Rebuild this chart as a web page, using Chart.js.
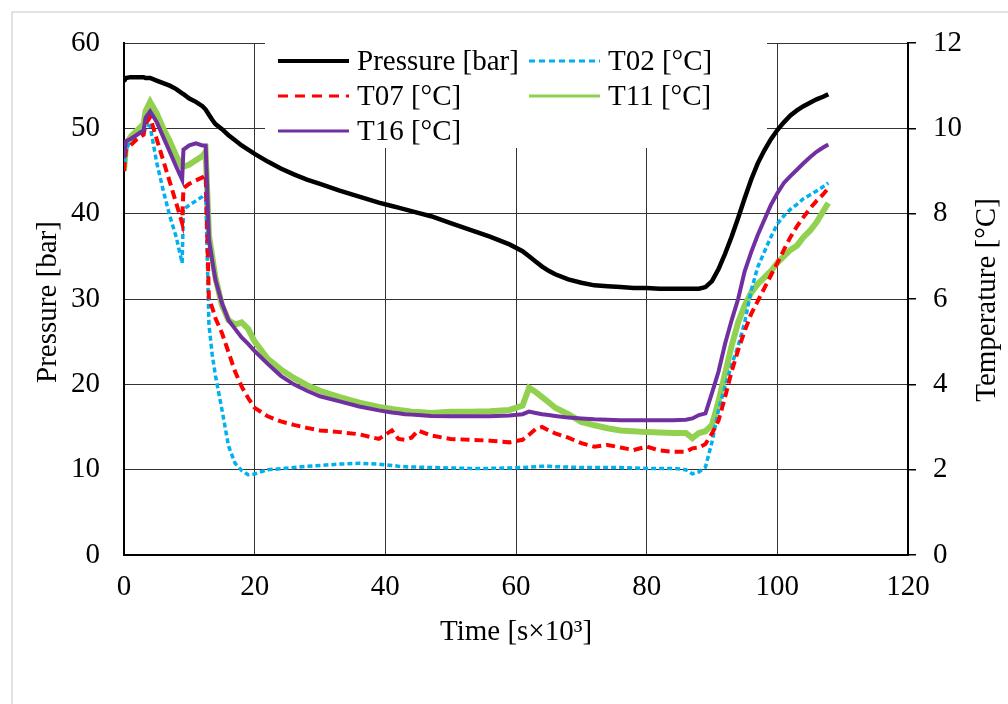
<!DOCTYPE html>
<html>
<head>
<meta charset="utf-8">
<script src="https://cdn.jsdelivr.net/npm/chart.js@4.4.1/dist/chart.umd.min.js"></script>
<style>
  body { margin: 0; background: #fff; }
  #wrap { width: 1008px; height: 704px; position: relative; }
</style>
</head>
<body>
<div id="wrap"><canvas id="chart"></canvas></div>
<script>
// time in thousands of seconds
const time = [0, 0.3, 1, 2, 3, 3.3, 4, 5, 6, 7,
    8, 8.9, 9.1, 10, 11, 12, 12.5, 13, 13.5, 14,
    15, 16, 17, 18, 19, 20, 22, 24, 26, 28,
    30, 33, 36, 39, 41, 42, 43, 44, 45, 47,
    50, 53, 56, 59, 61, 62, 63, 64, 65, 66,
    68, 70, 72, 74, 76, 78, 80, 82, 84, 86,
    87, 88, 89, 90, 91, 92, 93, 94, 95, 96,
    97, 98, 99, 100, 101, 102, 103, 104, 105, 106,
    107, 107.8];

// bar
const pressure = [55.5, 55.9, 56.0, 56.0, 56.0, 55.9, 55.9, 55.6, 55.3, 55.0,
    54.6, 54.1, 54.0, 53.5, 53.1, 52.6, 52.2, 51.6, 51.0, 50.5,
    49.9, 49.2, 48.6, 48.0, 47.5, 47.0, 46.1, 45.3, 44.6, 44.0,
    43.5, 42.7, 42.0, 41.3, 40.9, 40.7, 40.5, 40.3, 40.1, 39.7,
    38.9, 38.1, 37.3, 36.4, 35.6, 35.0, 34.4, 33.8, 33.3, 32.9,
    32.3, 31.9, 31.6, 31.5, 31.4, 31.3, 31.3, 31.2, 31.2, 31.2,
    31.2, 31.2, 31.4, 32.1, 33.5, 35.3, 37.3, 39.5, 41.8, 44.0,
    45.9, 47.4, 48.7, 49.8, 50.7, 51.5, 52.1, 52.6, 53.0, 53.4,
    53.7, 54.0];

// degC
const t02 = [9.0, 9.5, 9.7, 9.85, 10.0, 10.1, 10.05, 9.2, 8.55, 7.95,
    7.45, 6.84, 8.1, 8.2, 8.3, 8.4, 8.48, 5.4, 4.7, 4.2,
    3.4, 2.55, 2.15, 1.98, 1.88, 1.9, 2.0, 2.02, 2.05, 2.08,
    2.1, 2.13, 2.15, 2.13, 2.1, 2.08, 2.07, 2.06, 2.06, 2.05,
    2.04, 2.03, 2.03, 2.04, 2.05, 2.06, 2.07, 2.08, 2.08, 2.07,
    2.06, 2.05, 2.05, 2.05, 2.05, 2.04, 2.03, 2.03, 2.03, 2.0,
    1.9, 1.95, 2.06, 2.65, 3.4, 3.95, 4.45, 4.9, 5.45, 6.2,
    6.75, 7.1, 7.45, 7.76, 7.95, 8.1, 8.22, 8.35, 8.44, 8.53,
    8.63, 8.72];

const t07 = [9.0, 9.5, 9.6, 9.75, 9.85, 10.1, 10.26, 9.75, 9.25, 8.75,
    8.24, 7.78, 8.6, 8.7, 8.78, 8.85, 8.9, 6.0, 5.8, 5.55,
    5.2, 4.75, 4.3, 3.95, 3.68, 3.45, 3.25, 3.13, 3.05, 2.98,
    2.92, 2.88, 2.83, 2.72, 2.92, 2.72, 2.7, 2.75, 2.92, 2.8,
    2.72, 2.7, 2.68, 2.64, 2.7, 2.82, 2.95, 3.0, 2.92, 2.85,
    2.75, 2.62, 2.54, 2.58, 2.52, 2.46, 2.54, 2.45, 2.42, 2.42,
    2.5, 2.52, 2.6, 2.85, 3.15, 3.7, 4.3, 4.8, 5.25, 5.65,
    5.95, 6.25, 6.55, 6.84, 7.15, 7.45, 7.7, 7.92, 8.12, 8.3,
    8.45, 8.6];

const t11 = [9.0, 9.6, 9.8, 9.95, 10.1, 10.4, 10.62, 10.35, 10.0, 9.7,
    9.35, 9.1, 9.1, 9.15, 9.25, 9.35, 9.45, 7.5, 7.0, 6.5,
    5.85, 5.5, 5.4, 5.45, 5.3, 5.0, 4.6, 4.35, 4.15, 3.98,
    3.85, 3.7, 3.57, 3.47, 3.42, 3.4, 3.38, 3.36, 3.35, 3.33,
    3.36, 3.36, 3.37, 3.4, 3.5, 3.92, 3.82, 3.7, 3.58, 3.45,
    3.3, 3.12, 3.04, 2.97, 2.92, 2.9, 2.88, 2.87, 2.86, 2.86,
    2.74, 2.86, 2.9, 3.05, 3.6, 4.25, 4.9, 5.45, 5.85, 6.15,
    6.35, 6.5, 6.65, 6.85, 7.0, 7.15, 7.25, 7.45, 7.6, 7.8,
    8.05, 8.25];

const t16 = [9.3, 9.7, 9.75, 9.85, 9.95, 10.25, 10.4, 10.15, 9.8, 9.45,
    9.1, 8.8, 9.5, 9.6, 9.65, 9.6, 9.6, 7.4, 6.9, 6.45,
    5.9, 5.5, 5.3, 5.1, 4.95, 4.78, 4.48, 4.2, 4.0, 3.85,
    3.72, 3.6, 3.48, 3.39, 3.34, 3.32, 3.3, 3.29, 3.28, 3.26,
    3.25, 3.25, 3.25, 3.27, 3.3, 3.36, 3.33, 3.3, 3.28, 3.26,
    3.22, 3.2, 3.18, 3.17, 3.16, 3.16, 3.16, 3.16, 3.16, 3.17,
    3.2, 3.28, 3.32, 3.8, 4.3, 4.95, 5.5, 6.0, 6.65, 7.1,
    7.5, 7.85, 8.2, 8.48, 8.72, 8.88, 9.03, 9.18, 9.32, 9.45,
    9.55, 9.62];

const FONT = '"Liberation Serif", "Times New Roman", serif';
const FSIZE = 29;

const toPoints = vals => time.map((t, i) => ({ x: t, y: vals[i] }));

// legend entries: label, color, width, dash, column, row
const legendItems = [
    { label: 'Pressure [bar]', color: '#000000', width: 4, dash: [], col: 0, row: 0 },
    { label: 'T02 [°C]', color: '#00B0F0', width: 3, dash: [6, 4], col: 1, row: 0 },
    { label: 'T07 [°C]', color: '#FF0000', width: 3, dash: [10, 7], col: 0, row: 1 },
    { label: 'T11 [°C]', color: '#92D050', width: 3, dash: [], col: 1, row: 1 },
    { label: 'T16 [°C]', color: '#7030A0', width: 3, dash: [], col: 0, row: 2 }
];

const framePlugin = {
    id: 'frame',
    beforeDraw(chart) {
        const ctx = chart.ctx;
        ctx.save();
        ctx.fillStyle = '#fff';
        ctx.fillRect(0, 0, chart.width, chart.height);
        ctx.strokeStyle = '#d9d9d9';
        ctx.lineWidth = 1.5;
        ctx.strokeRect(12, 12, 1200, 1200);
        ctx.restore();
    }
};

const legendPlugin = {
    id: 'insideLegend',
    beforeDatasetsDraw(chart) {
        const ctx = chart.ctx;
        ctx.save();
        ctx.fillStyle = '#fff';
        ctx.fillRect(265, 41, 502, 107);
        ctx.font = FSIZE + 'px ' + FONT;
        ctx.textBaseline = 'middle';
        ctx.fillStyle = '#000';
        const colX = [278, 529];
        const rowY = [61, 96, 131];
        legendItems.forEach(it => {
            const x0 = colX[it.col], y = rowY[it.row];
            ctx.beginPath();
            ctx.strokeStyle = it.color;
            ctx.lineWidth = it.width;
            ctx.setLineDash(it.dash);
            ctx.moveTo(x0, y);
            ctx.lineTo(x0 + 71, y);
            ctx.stroke();
            ctx.setLineDash([]);
            ctx.fillText(it.label, x0 + 79, y + 1);
        });
        ctx.restore();
    }
};

const titlePlugin = {
    id: 'axisTitles',
    afterDraw(chart) {
        const ctx = chart.ctx;
        ctx.save();
        ctx.font = FSIZE + 'px ' + FONT;
        ctx.fillStyle = '#000';
        ctx.textAlign = 'center';
        ctx.textBaseline = 'middle';
        ctx.fillText('Time [s×10³]', 516, 632);
        ctx.translate(48, 302);
        ctx.rotate(-Math.PI / 2);
        ctx.fillText('Pressure [bar]', 0, 0);
        ctx.restore();
        ctx.save();
        ctx.font = FSIZE + 'px ' + FONT;
        ctx.fillStyle = '#000';
        ctx.textAlign = 'center';
        ctx.textBaseline = 'middle';
        ctx.translate(987, 300);
        ctx.rotate(-Math.PI / 2);
        ctx.fillText('Temperature [°C]', 0, 0);
        ctx.restore();
    }
};

new Chart(document.getElementById('chart'), {
    type: 'line',
    data: {
        datasets: [
            { label: 'Pressure [bar]', data: toPoints(pressure), yAxisID: 'y',
              borderColor: '#000000', borderWidth: 4.5 },
            { label: 'T16 [°C]', data: toPoints(t16), yAxisID: 'y1',
              borderColor: '#7030A0', borderWidth: 4 },
            { label: 'T07 [°C]', data: toPoints(t07), yAxisID: 'y1',
              borderColor: '#FF0000', borderWidth: 4, borderDash: [9, 5] },
            { label: 'T02 [°C]', data: toPoints(t02), yAxisID: 'y1',
              borderColor: '#00B0F0', borderWidth: 3.5, borderDash: [5, 3] },
            { label: 'T11 [°C]', data: toPoints(t11), yAxisID: 'y1',
              borderColor: '#92D050', borderWidth: 6 }
        ]
    },
    options: {
        responsive: true,
        maintainAspectRatio: false,
        animation: false,
        layout: { padding: { top: 43, left: 0, right: 0, bottom: 0 } },
        elements: {
            point: { radius: 0 },
            line: { tension: 0, borderCapStyle: 'butt' }
        },
        plugins: {
            legend: { display: false },
            tooltip: { enabled: false }
        },
        scales: {
            x: {
                type: 'linear',
                min: 0,
                max: 120,
                ticks: { stepSize: 20, padding: 15, color: '#000', font: { family: FONT, size: FSIZE } },
                grid: { color: '#333', lineWidth: 1, drawTicks: false },
                border: { display: true, color: '#000', width: 2 },
                afterFit: s => { s.height = 149; }
            },
            y: {
                position: 'left',
                min: 0,
                max: 60,
                ticks: { stepSize: 10, padding: 24, color: '#000', font: { family: FONT, size: FSIZE } },
                grid: { color: '#333', lineWidth: 1, drawTicks: false },
                border: { display: true, color: '#000', width: 2 },
                afterFit: s => { s.width = 124; }
            },
            y1: {
                position: 'right',
                min: 0,
                max: 12,
                ticks: { stepSize: 2, padding: 17, color: '#000', font: { family: FONT, size: FSIZE } },
                grid: { drawOnChartArea: false, drawTicks: true, tickLength: 8, color: '#000', lineWidth: 1.5 },
                border: { display: true, color: '#000', width: 2 },
                afterFit: s => { s.width = 100; }
            }
        }
    },
    plugins: [framePlugin, legendPlugin, titlePlugin]
});
</script>
</body>
</html>
